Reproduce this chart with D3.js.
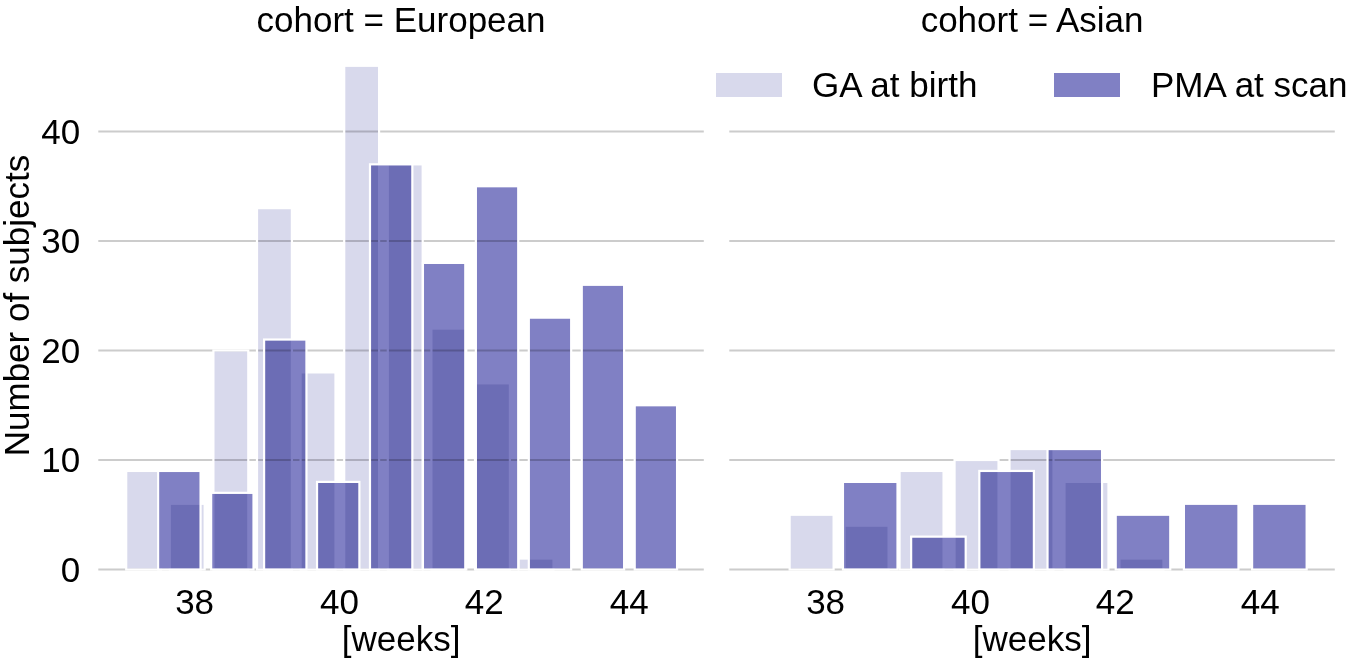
<!DOCTYPE html>
<html>
<head>
<meta charset="utf-8">
<script src="https://cdn.jsdelivr.net/npm/d3@7"></script>
<style>
  html, body { margin: 0; padding: 0; background: #fff; }
  svg { display: block; font-family: 'Liberation Sans', Arial, sans-serif; }
  .bar { mix-blend-mode: multiply; }
</style>
</head>
<body>
<svg id="chart" width="1350" height="661"></svg>
<script>
const cohorts = ['European', 'Asian'];
const seriesNames = ['GA at birth', 'PMA at scan'];
const xTicks = [38, 40, 42, 44];
const yTicks = [0, 10, 20, 30, 40];

// histogram bins: [left edge of first bin, bin width] in weeks
const gaEuropeanBins = [36.995, 0.602];
const gaEuropeanCounts = [9, 6, 20, 33, 18, 46, 37, 22, 17, 1];
const pmaEuropeanBins = [37.424, 0.731];
const pmaEuropeanCounts = [9, 7, 21, 8, 37, 28, 35, 23, 26, 15];

const gaAsianBins = [37.427, 0.759];
const gaAsianCounts = [5, 4, 9, 10, 11, 8, 1];
const pmaAsianBins = [38.145, 0.9415];
const pmaAsianCounts = [8, 3, 9, 11, 5, 6, 6];

const panels = [
  { cohort: cohorts[0], series: [
    { name: seriesNames[0], bins: gaEuropeanBins, counts: gaEuropeanCounts },
    { name: seriesNames[1], bins: pmaEuropeanBins, counts: pmaEuropeanCounts },
  ] },
  { cohort: cohorts[1], series: [
    { name: seriesNames[0], bins: gaAsianBins, counts: gaAsianCounts },
    { name: seriesNames[1], bins: pmaAsianBins, counts: pmaAsianCounts },
  ] },
];

const panelX = [98.3, 729.3];
const panelW = 605.5;
const shrink = 0.8;
const fontSize = 35;

const x = d3.scaleLinear().domain([36.67, 45.03]).range([0, panelW]);
const y = d3.scaleLinear().domain([0, 48.3]).range([569.5, 40.6]);
const color = d3.scaleOrdinal().domain(seriesNames).range(['#d8d9ec', '#8080c4']);

const svg = d3.select('#chart');
svg.append('rect').attr('width', 1350).attr('height', 661).attr('fill', '#fff');

panels.forEach((p, i) => {
  const g = svg.append('g').attr('transform', `translate(${panelX[i]},0)`);

  g.append('g')
    .selectAll('line')
    .data(yTicks)
    .join('line')
    .attr('x1', 0)
    .attr('x2', panelW)
    .attr('y1', (d) => y(d))
    .attr('y2', (d) => y(d))
    .attr('stroke', '#cccccc')
    .attr('stroke-width', 1.8);

  p.series.forEach((s) => {
    const [start, width] = s.bins;
    const bars = s.counts.map((c, k) => ({ x0: start + k * width, x1: start + (k + 1) * width, count: c }))
      .filter((d) => d.count > 0);
    const barW = (d) => shrink * (x(d.x1) - x(d.x0));
    const barX = (d) => x((d.x0 + d.x1) / 2) - barW(d) / 2;

    g.append('g')
      .selectAll('rect')
      .data(bars)
      .join('rect')
      .attr('class', 'bar')
      .attr('x', barX)
      .attr('y', (d) => y(d.count))
      .attr('width', barW)
      .attr('height', (d) => y(0) - y(d.count))
      .attr('fill', color(s.name));

    g.append('g')
      .selectAll('rect')
      .data(bars)
      .join('rect')
      .attr('x', barX)
      .attr('y', (d) => y(d.count))
      .attr('width', barW)
      .attr('height', (d) => y(0) - y(d.count))
      .attr('fill', 'none')
      .attr('stroke', '#fff')
      .attr('stroke-width', 2.2);
  });

  g.append('g')
    .selectAll('text')
    .data(xTicks)
    .join('text')
    .attr('x', (d) => x(d))
    .attr('y', 614)
    .attr('text-anchor', 'middle')
    .attr('font-size', fontSize)
    .text((d) => d);

  g.append('text')
    .attr('x', panelW / 2)
    .attr('y', 651)
    .attr('text-anchor', 'middle')
    .attr('font-size', fontSize)
    .text('[weeks]');

  g.append('text')
    .attr('x', panelW / 2)
    .attr('y', 32)
    .attr('text-anchor', 'middle')
    .attr('font-size', fontSize)
    .text(`cohort = ${p.cohort}`);

  if (i === 0) {
    g.append('g')
      .selectAll('text')
      .data(yTicks)
      .join('text')
      .attr('x', -18)
      .attr('y', (d) => y(d) + 12.5)
      .attr('text-anchor', 'end')
      .attr('font-size', fontSize)
      .text((d) => d);
  }
});

svg.append('text')
  .attr('transform', 'translate(28.5,305.5) rotate(-90)')
  .attr('text-anchor', 'middle')
  .attr('font-size', fontSize)
  .text('Number of subjects');

// legend
const legendSwatchX = [716, 1054];
const legendTextX = [812, 1151];
const legend = svg.append('g')
  .selectAll('g')
  .data(seriesNames)
  .join('g');
legend.append('rect')
  .attr('x', (d, i) => legendSwatchX[i])
  .attr('y', 73)
  .attr('width', 66)
  .attr('height', 24)
  .attr('fill', (d) => color(d));
legend.append('text')
  .attr('x', (d, i) => legendTextX[i])
  .attr('y', 97)
  .attr('font-size', fontSize)
  .text((d) => d);
</script>
</body>
</html>
